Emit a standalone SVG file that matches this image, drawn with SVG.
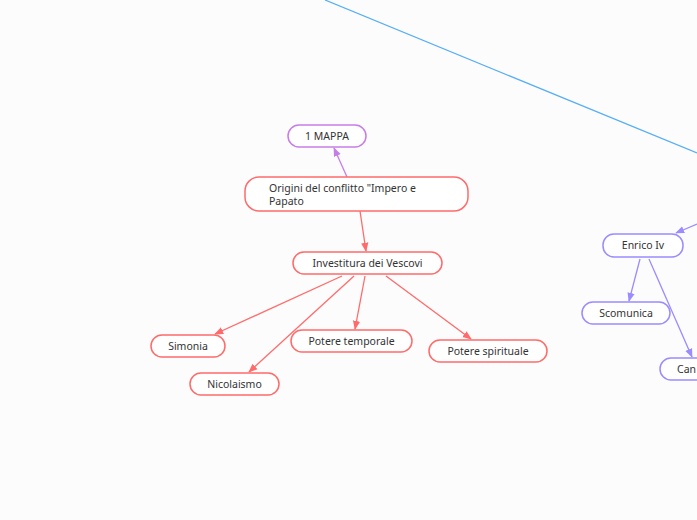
<svg xmlns="http://www.w3.org/2000/svg" width="697" height="520" viewBox="0 0 697 520">
<defs>
<style>
.t{font-family:"Noto Sans","DejaVu Sans",sans-serif;font-size:10.5px;fill:#333;}
.m{text-anchor:middle;}
.r{fill:#fff;stroke:#ff6b6b;stroke-width:1.5;}
.p{fill:#fff;stroke:#c77de8;stroke-width:1.5;}
.v{fill:#fff;stroke:#9b8cff;stroke-width:1.5;}
.cr{stroke:#ff6b6b;stroke-width:1.3;fill:none;}
.cp{stroke:#c77de8;stroke-width:1.3;fill:none;}
.cv{stroke:#9b8cff;stroke-width:1.3;fill:none;}
.cb{stroke:#57aef5;stroke-width:1.3;fill:none;}
</style>
<marker id="ar" viewBox="0 0 10 10" refX="9" refY="5" markerWidth="7" markerHeight="7" orient="auto"><path d="M0,1 L10,5 L0,9 z" fill="#ff6b6b"/></marker>
<marker id="ap" viewBox="0 0 10 10" refX="9" refY="5" markerWidth="7" markerHeight="7" orient="auto"><path d="M0,1 L10,5 L0,9 z" fill="#c77de8"/></marker>
<marker id="av" viewBox="0 0 10 10" refX="9" refY="5" markerWidth="7" markerHeight="7" orient="auto"><path d="M0,1 L10,5 L0,9 z" fill="#9b8cff"/></marker>
</defs>
<rect width="697" height="520" fill="#fcfcfc"/>
<g id="connectors">
<line class="cb" x1="325" y1="0" x2="697" y2="153"/>
<line class="cp" x1="347" y1="177" x2="334" y2="148" marker-end="url(#ap)"/>
<line class="cr" x1="360" y1="211" x2="366" y2="251" marker-end="url(#ar)"/>
<line class="cr" x1="342" y1="276" x2="215" y2="334" marker-end="url(#ar)"/>
<line class="cr" x1="354" y1="276" x2="249" y2="372" marker-end="url(#ar)"/>
<line class="cr" x1="365" y1="276" x2="355" y2="329" marker-end="url(#ar)"/>
<line class="cr" x1="386" y1="276" x2="471" y2="339" marker-end="url(#ar)"/>
<line class="cv" x1="697" y1="224" x2="676" y2="233" marker-end="url(#av)"/>
<line class="cv" x1="640" y1="259" x2="629" y2="301" marker-end="url(#av)"/>
<line class="cv" x1="649" y1="259" x2="692" y2="357" marker-end="url(#av)"/>
</g>
<g id="n-mappa"><rect class="p" x="288" y="125" width="78" height="22" rx="11"/><text class="t m" x="327" y="139.5">1 MAPPA</text></g>
<g id="n-origini"><rect class="r" x="245" y="177" width="223" height="34" rx="14"/><text class="t" x="269" y="192">Origini del conflitto "Impero e</text><text class="t" x="269" y="205">Papato</text></g>
<g id="n-investitura"><rect class="r" x="293" y="252" width="149" height="22" rx="11"/><text class="t m" x="367.5" y="266.5">Investitura dei Vescovi</text></g>
<g id="n-simonia"><rect class="r" x="151" y="335" width="74" height="22" rx="11"/><text class="t m" x="188" y="349.5">Simonia</text></g>
<g id="n-nicolaismo"><rect class="r" x="190" y="373" width="89" height="22" rx="11"/><text class="t m" x="234.5" y="387.5">Nicolaismo</text></g>
<g id="n-temporale"><rect class="r" x="291" y="330" width="121" height="22" rx="11"/><text class="t m" x="351.5" y="344.5">Potere temporale</text></g>
<g id="n-spirituale"><rect class="r" x="429" y="340" width="118" height="22" rx="11"/><text class="t m" x="488" y="354.5">Potere spirituale</text></g>
<g id="n-enrico"><rect class="v" x="603" y="234" width="80" height="23" rx="11"/><text class="t m" x="643" y="249">Enrico Iv</text></g>
<g id="n-scomunica"><rect class="v" x="582" y="302" width="88" height="22" rx="11"/><text class="t m" x="626" y="316.5">Scomunica</text></g>
<g id="n-canossa"><rect class="v" x="660" y="358" width="60" height="22" rx="11"/><text class="t" x="677" y="372.5">Can</text></g>
</svg>
